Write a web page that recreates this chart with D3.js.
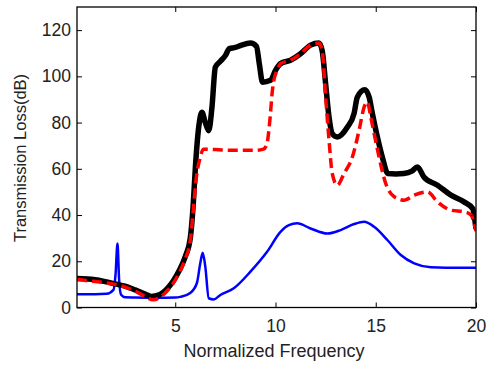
<!DOCTYPE html>
<head>
  <meta charset="utf-8">
  <title>Transmission Loss</title>
  <style>
    body { margin: 0; background: #fff; }
    text { font-family: "Liberation Sans", Arial, sans-serif; fill: #222; }
  </style>
</head>
<body>
<script src="https://d3js.org/d3.v7.min.js"></script>
<script>
  // values (normalized frequency, dB)
  const blackFreq = [0.1, 1.0, 1.5, 2.0, 2.5, 3.0, 3.5, 3.8, 4.2, 4.6, 4.9, 5.2, 5.5, 5.75, 5.9, 6.0, 6.17, 6.33, 6.5, 6.67, 6.83, 7.0, 7.25, 7.5, 7.7, 8.0, 8.3, 8.75, 9.05, 9.2, 9.35, 9.75, 10.0, 10.25, 10.75, 11.25, 11.75, 12.17, 12.33, 12.5, 12.67, 12.83, 13.08, 13.58, 13.92, 14.08, 14.45, 14.67, 14.83, 15.08, 15.33, 15.6, 16.0, 16.4, 16.8, 17.08, 17.4, 18.08, 18.75, 19.4, 19.83, 20.0];
  const blackLoss = [12.5, 12, 11.2, 10.2, 9.2, 7.6, 5.8, 4.8, 5.5, 8.2, 11.5, 16, 22, 30, 45, 60, 78, 84.5, 80, 76.5, 86.5, 104, 106.5, 109, 112, 112.5, 113.5, 114.4, 113, 105, 97.5, 98.3, 102.6, 105.5, 107, 109.8, 113.5, 114.4, 111, 96.8, 82.4, 75.2, 73.8, 78, 84, 91, 94.2, 91, 84, 73.8, 65, 58, 57.8, 58, 59, 60.8, 56.5, 52.9, 48.6, 45.7, 42.8, 34];

  const redFreq = [0.1, 0.6, 1.25, 2.0, 2.5, 3.0, 3.5, 3.9, 4.2, 4.5, 4.9, 5.2, 5.5, 5.75, 5.9, 6.05, 6.25, 6.4, 7.0, 8.0, 9.0, 9.4, 9.58, 9.67, 9.75, 9.83, 9.92, 10.08, 10.25, 10.75, 11.25, 11.75, 12.17, 12.33, 12.5, 12.67, 12.83, 13.08, 13.42, 13.83, 14.17, 14.42, 14.58, 14.75, 15.08, 15.5, 15.92, 16.42, 16.92, 17.58, 18.08, 18.75, 19.42, 19.75, 20.0];
  const redLoss = [12.2, 11.6, 11.0, 10.0, 8.8, 7.0, 4.8, 3.3, 4.2, 6.3, 10.5, 15, 21, 29, 42, 56, 65, 68.5, 68.3, 68, 68, 68.5, 71, 76.7, 84, 92.6, 98.3, 102.6, 105.5, 107, 109.8, 113.5, 114.4, 111, 91, 72.4, 58, 52.9, 58, 65, 76.7, 86.7, 88.9, 82.4, 68.5, 53.6, 47.9, 46.4, 48.6, 50, 45.7, 42.1, 41.4, 40, 33];

  const blueFreq = [0.1, 1.0, 1.58, 1.92, 2.02, 2.12, 2.2, 2.3, 2.5, 3.0, 4.0, 5.0, 5.25, 5.75, 6.08, 6.25, 6.37, 6.5, 6.67, 6.92, 7.25, 7.92, 8.75, 9.58, 10.25, 10.67, 11.08, 11.75, 12.58, 13.25, 13.92, 14.42, 14.92, 15.58, 16.25, 16.92, 17.75, 18.5, 20.0];
  const blueLoss = [5.7, 5.7, 5.9, 7.6, 14, 27.7, 12, 5.5, 4.4, 4.3, 4.2, 4.3, 4.6, 6.3, 10.6, 19.2, 23.7, 17.6, 4.0, 3.5, 5.4, 8.3, 15.5, 24.1, 32.7, 35.6, 36.4, 34.2, 32, 33.5, 36.1, 37.1, 34.9, 29.2, 22.7, 19.1, 17.4, 17.2, 17.2];

  const xTicks = [5, 10, 15, 20];
  const yTicks = [0, 20, 40, 60, 80, 100, 120];

  const W = 488, H = 367;
  const mL = 77, mR = 476, mT = 7, mB = 307.5;

  const svg = d3.select("body").append("svg")
    .attr("width", W)
    .attr("height", H);

  const x = d3.scaleLinear().domain([0.1, 20]).range([mL, mR]);
  const y = d3.scaleLinear().domain([0, 130]).range([mB, mT]);

  // clip so that thick lines don't spill past the frame
  svg.append("clipPath").attr("id", "plot")
    .append("rect")
    .attr("x", mL).attr("y", mT)
    .attr("width", mR - mL).attr("height", mB - mT);

  const line = d3.line()
    .x(d => x(d[0]))
    .y(d => y(d[1]))
    .curve(d3.curveMonotoneX);

  const g = svg.append("g").attr("clip-path", "url(#plot)");

  g.append("path")
    .datum(d3.zip(blueFreq, blueLoss))
    .attr("d", line)
    .attr("fill", "none")
    .attr("stroke", "#0000ff")
    .attr("stroke-width", 2.5)
    .attr("stroke-linejoin", "round");

  g.append("path")
    .datum(d3.zip(blackFreq, blackLoss))
    .attr("d", line)
    .attr("fill", "none")
    .attr("stroke", "#000")
    .attr("stroke-width", 5.5)
    .attr("stroke-linejoin", "round");

  g.append("path")
    .datum(d3.zip(redFreq, redLoss))
    .attr("d", line)
    .attr("fill", "none")
    .attr("stroke", "#ff0000")
    .attr("stroke-width", 3.5)
    .attr("stroke-dasharray", "10,5");

  // axes with inward ticks, box on
  const tk = 5;
  svg.append("g")
    .attr("transform", `translate(0,${mB})`)
    .call(d3.axisBottom(x).tickValues(xTicks).tickSizeInner(-tk).tickSizeOuter(0).tickPadding(12))
    .call(a => a.select(".domain").remove());
  svg.append("g")
    .attr("transform", `translate(0,${mT})`)
    .call(d3.axisTop(x).tickValues(xTicks).tickSizeInner(-tk).tickSizeOuter(0).tickFormat(""))
    .call(a => a.select(".domain").remove());
  svg.append("g")
    .attr("transform", `translate(${mL},0)`)
    .call(d3.axisLeft(y).tickValues(yTicks).tickSizeInner(-tk).tickSizeOuter(0).tickPadding(6))
    .call(a => a.select(".domain").remove());
  svg.append("g")
    .attr("transform", `translate(${mR},0)`)
    .call(d3.axisRight(y).tickValues(yTicks).tickSizeInner(-tk).tickSizeOuter(0).tickFormat(""))
    .call(a => a.select(".domain").remove());

  svg.selectAll(".tick line").attr("stroke", "#000");
  svg.selectAll(".tick text")
    .attr("font-size", 17.5)
    .attr("font-family", "Liberation Sans, Arial, sans-serif")
    .attr("fill", "#222");

  svg.append("rect")
    .attr("x", mL).attr("y", mT)
    .attr("width", mR - mL).attr("height", mB - mT)
    .attr("fill", "none")
    .attr("stroke", "#000")
    .attr("stroke-width", 1.3);

  svg.append("text")
    .attr("x", 274)
    .attr("y", 357)
    .attr("text-anchor", "middle")
    .attr("font-size", 18)
    .text("Normalized Frequency");

  svg.append("text")
    .attr("transform", `translate(26,158) rotate(-90)`)
    .attr("text-anchor", "middle")
    .attr("font-size", 16.5)
    .text("Transmission Loss(dB)");
</script>
</body>
</html>
